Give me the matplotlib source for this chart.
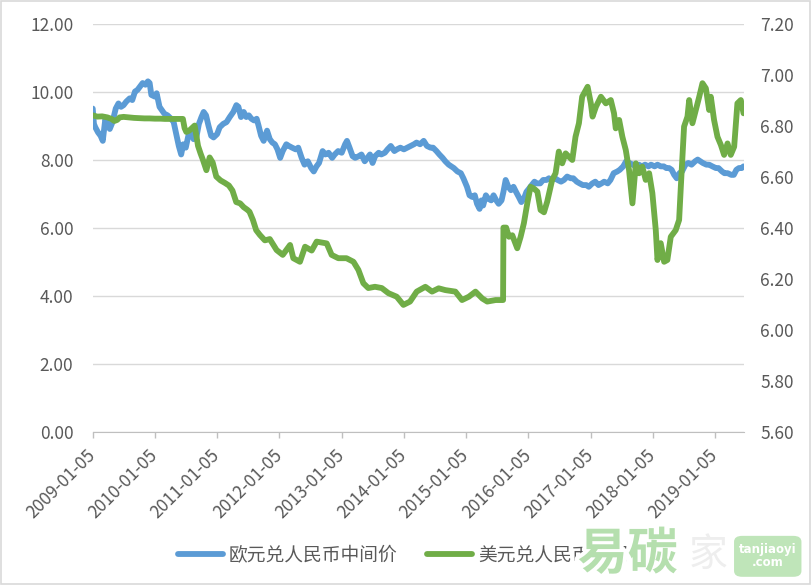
import numpy as np
import pandas as pd
import matplotlib
matplotlib.use('Agg')
import matplotlib.pyplot as plt
import matplotlib.patheffects as pe
from matplotlib.patches import Rectangle, FancyBboxPatch

plt.rcParams['font.family'] = ['Noto Sans CJK SC', 'DejaVu Sans']
plt.rcParams['font.weight'] = 'light'

# 欧元兑人民币中间价 (left axis)
eur_dates = ['2009-01-05', '2009-01-12', '2009-01-20', '2009-02-05', '2009-02-20', '2009-03-05', '2009-03-20',
             '2009-04-01', '2009-04-15', '2009-05-01', '2009-05-20', '2009-06-05', '2009-06-20', '2009-07-05',
             '2009-07-20', '2009-08-10', '2009-08-25', '2009-09-10', '2009-09-25', '2009-10-10', '2009-10-25',
             '2009-11-10', '2009-11-25', '2009-12-05', '2009-12-15', '2010-01-05', '2010-01-15', '2010-02-01',
             '2010-02-15', '2010-03-01', '2010-03-20', '2010-04-10', '2010-04-25', '2010-05-10', '2010-05-25',
             '2010-06-08', '2010-06-20', '2010-07-05', '2010-07-20', '2010-08-05', '2010-08-20', '2010-09-05',
             '2010-09-20', '2010-10-05', '2010-10-18', '2010-11-01', '2010-11-15', '2010-12-01', '2010-12-15',
             '2011-01-05', '2011-01-20', '2011-02-10', '2011-03-01', '2011-03-20', '2011-04-10', '2011-04-28',
             '2011-05-10', '2011-05-25', '2011-06-10', '2011-06-25', '2011-07-10', '2011-07-25', '2011-08-10',
             '2011-08-25', '2011-09-05', '2011-09-20', '2011-10-05', '2011-10-25', '2011-11-10', '2011-11-25',
             '2011-12-10', '2011-12-25', '2012-01-10', '2012-01-25', '2012-02-15', '2012-03-01', '2012-03-20',
             '2012-04-10', '2012-04-25', '2012-05-15', '2012-06-01', '2012-06-20', '2012-07-10', '2012-07-25',
             '2012-08-10', '2012-08-25', '2012-09-15', '2012-10-01', '2012-10-20', '2012-11-10', '2012-11-25',
             '2012-12-15', '2013-01-05', '2013-01-25', '2013-02-05', '2013-02-20', '2013-03-10', '2013-03-25',
             '2013-04-15', '2013-05-01', '2013-05-20', '2013-06-05', '2013-06-20', '2013-07-05', '2013-07-20',
             '2013-08-10', '2013-08-25', '2013-09-15', '2013-10-01', '2013-10-20', '2013-11-10', '2013-11-25',
             '2013-12-15', '2014-01-05', '2014-01-25', '2014-02-15', '2014-03-05', '2014-03-20', '2014-04-10',
             '2014-05-01', '2014-05-20', '2014-06-10', '2014-06-25', '2014-07-15', '2014-08-01', '2014-08-20',
             '2014-09-05', '2014-09-25', '2014-10-10', '2014-10-25', '2014-11-15', '2014-12-05', '2014-12-20',
             '2015-01-10', '2015-01-25', '2015-02-10', '2015-02-25', '2015-03-10', '2015-03-25', '2015-04-05',
             '2015-04-15', '2015-05-01', '2015-05-15', '2015-06-01', '2015-06-15', '2015-07-01', '2015-07-15',
             '2015-08-01', '2015-08-12', '2015-08-25', '2015-09-10', '2015-09-25', '2015-10-10', '2015-10-25',
             '2015-11-10', '2015-11-25', '2015-12-10', '2015-12-25', '2016-01-10', '2016-01-25', '2016-02-10',
             '2016-02-25', '2016-03-15', '2016-04-01', '2016-04-20', '2016-05-05', '2016-05-20', '2016-06-10',
             '2016-06-25', '2016-07-15', '2016-08-01', '2016-08-20', '2016-09-10', '2016-09-25', '2016-10-15',
             '2016-11-01', '2016-11-20', '2016-12-10', '2016-12-25', '2017-01-15', '2017-02-01', '2017-02-20',
             '2017-03-10', '2017-03-25', '2017-04-15', '2017-05-01', '2017-05-20', '2017-06-10', '2017-06-25',
             '2017-07-15', '2017-08-01', '2017-08-20', '2017-09-10', '2017-09-25', '2017-10-15', '2017-11-01',
             '2017-11-20', '2017-12-10', '2017-12-25', '2018-01-15', '2018-02-01', '2018-02-20', '2018-03-10',
             '2018-03-25', '2018-04-10', '2018-04-25', '2018-05-10', '2018-05-25', '2018-06-10', '2018-06-25',
             '2018-07-15', '2018-08-01', '2018-08-20', '2018-09-10', '2018-09-25', '2018-10-10', '2018-10-25',
             '2018-11-15', '2018-12-01', '2018-12-20', '2019-01-10', '2019-01-25', '2019-02-15', '2019-03-01',
             '2019-03-20', '2019-04-10', '2019-04-25', '2019-05-10', '2019-05-25', '2019-06-10', '2019-06-21']
eur_vals = [9.50, 9.05, 8.95, 8.80, 8.70, 8.55, 9.20,
            9.05, 8.90, 9.10, 9.50, 9.65, 9.55, 9.60,
            9.70, 9.80, 9.75, 10.00, 10.05, 10.15, 10.25,
            10.20, 10.30, 10.25, 9.90, 9.85, 9.95, 9.55,
            9.45, 9.35, 9.30, 9.20, 9.10, 8.75, 8.40,
            8.15, 8.45, 8.35, 8.70, 8.80, 8.60, 8.65,
            9.05, 9.25, 9.40, 9.30, 9.00, 8.70, 8.65,
            8.75, 8.95, 9.05, 9.10, 9.25, 9.40, 9.60,
            9.55, 9.25, 9.40, 9.25, 9.30, 9.20, 9.15,
            9.20, 9.00, 8.70, 8.55, 8.85, 8.60, 8.50,
            8.45, 8.30, 8.05, 8.25, 8.45, 8.40, 8.35,
            8.30, 8.35, 8.05, 7.85, 7.95, 7.75, 7.65,
            7.80, 7.90, 8.25, 8.15, 8.20, 8.05, 8.15,
            8.25, 8.20, 8.45, 8.55, 8.35, 8.10, 8.05,
            8.10, 8.15, 7.95, 8.05, 8.15, 7.90, 8.10,
            8.20, 8.15, 8.20, 8.30, 8.40, 8.25, 8.30,
            8.35, 8.30, 8.35, 8.40, 8.45, 8.50, 8.45,
            8.55, 8.40, 8.35, 8.35, 8.25, 8.15, 8.05,
            7.95, 7.85, 7.80, 7.75, 7.65, 7.60, 7.45,
            7.20, 6.95, 6.90, 6.95, 6.70, 6.55, 6.80,
            6.65, 6.95, 6.85, 6.80, 6.95, 6.80, 6.70,
            6.80, 7.05, 7.40, 7.20, 7.10, 7.20, 7.05,
            6.90, 6.75, 6.85, 7.05, 7.15, 7.25, 7.35,
            7.30, 7.30, 7.40, 7.40, 7.45, 7.40, 7.45,
            7.40, 7.35, 7.40, 7.50, 7.45, 7.45, 7.35,
            7.30, 7.25, 7.25, 7.20, 7.30, 7.35, 7.25,
            7.30, 7.35, 7.30, 7.40, 7.60, 7.65, 7.70,
            7.80, 7.95, 7.90, 7.85, 7.80, 7.85, 7.80,
            7.85, 7.80, 7.85, 7.80, 7.85, 7.80, 7.80,
            7.75, 7.75, 7.70, 7.55, 7.45, 7.60, 7.65,
            7.85, 7.90, 7.85, 7.95, 8.00, 7.95, 7.90,
            7.85, 7.85, 7.80, 7.75, 7.75, 7.65, 7.60,
            7.60, 7.55, 7.55, 7.70, 7.75, 7.75, 7.80]

# 美元兑人民币中间价 (right axis)
usd_dates = ['2009-01-05', '2009-02-01', '2009-03-01', '2009-04-01', '2009-04-25', '2009-05-12', '2009-05-28',
             '2009-06-12', '2009-07-05', '2009-08-05', '2009-09-05', '2009-10-05', '2009-11-05', '2009-12-05',
             '2010-01-05', '2010-02-05', '2010-03-05', '2010-04-05', '2010-05-05', '2010-06-18', '2010-06-28',
             '2010-07-08', '2010-07-25', '2010-08-10', '2010-08-26', '2010-09-15', '2010-09-30', '2010-10-14',
             '2010-11-03', '2010-11-22', '2010-12-10', '2010-12-31', '2011-01-25', '2011-02-20', '2011-03-15',
             '2011-04-05', '2011-04-27', '2011-05-20', '2011-06-10', '2011-07-01', '2011-07-14', '2011-08-03',
             '2011-08-22', '2011-09-13', '2011-10-12', '2011-11-10', '2011-12-20', '2012-01-25', '2012-03-08',
             '2012-03-27', '2012-05-05', '2012-06-04', '2012-07-13', '2012-08-11', '2012-10-09', '2012-11-07',
             '2012-12-16', '2013-02-02', '2013-03-15', '2013-04-13', '2013-05-12', '2013-06-10', '2013-07-19',
             '2013-08-28', '2013-10-06', '2013-11-24', '2014-01-02', '2014-02-10', '2014-03-21', '2014-05-11',
             '2014-06-19', '2014-07-28', '2014-09-05', '2014-11-03', '2014-12-12', '2015-01-21', '2015-03-01',
             '2015-04-10', '2015-05-09', '2015-06-27', '2015-08-10', '2015-08-12', '2015-08-28', '2015-09-13',
             '2015-10-03', '2015-11-01', '2015-11-21', '2015-12-10', '2015-12-30', '2016-01-18', '2016-02-07',
             '2016-02-27', '2016-03-17', '2016-04-06', '2016-04-25', '2016-05-24', '2016-06-13', '2016-07-02',
             '2016-07-22', '2016-08-11', '2016-08-30', '2016-09-19', '2016-10-08', '2016-10-28', '2016-11-16',
             '2016-12-18', '2017-01-06', '2017-01-16', '2017-02-05', '2017-03-06', '2017-04-04', '2017-05-03',
             '2017-05-22', '2017-06-01', '2017-06-21', '2017-07-10', '2017-07-30', '2017-08-18', '2017-09-07',
             '2017-09-27', '2017-10-16', '2017-11-04', '2017-11-24', '2017-12-14', '2018-01-02', '2018-01-22',
             '2018-02-01', '2018-02-20', '2018-03-12', '2018-03-31', '2018-04-20', '2018-05-19', '2018-06-08',
             '2018-06-18', '2018-07-07', '2018-07-27', '2018-08-06', '2018-08-25', '2018-09-14', '2018-10-04',
             '2018-10-23', '2018-11-12', '2018-12-01', '2018-12-11', '2018-12-30', '2019-01-19', '2019-02-08',
             '2019-02-27', '2019-03-19', '2019-04-07', '2019-04-27', '2019-05-16', '2019-06-05', '2019-06-21']
usd_vals = [6.840, 6.835, 6.836, 6.832, 6.826, 6.818, 6.822,
            6.832, 6.834, 6.832, 6.830, 6.829, 6.828, 6.828,
            6.827, 6.827, 6.826, 6.826, 6.826, 6.826, 6.790,
            6.775, 6.780, 6.790, 6.800, 6.720, 6.690, 6.665,
            6.625, 6.675, 6.655, 6.600, 6.585, 6.575, 6.565,
            6.545, 6.500, 6.495, 6.480, 6.470, 6.462, 6.430,
            6.390, 6.371, 6.350, 6.355, 6.312, 6.293, 6.332,
            6.280, 6.266, 6.325, 6.310, 6.345, 6.338, 6.293,
            6.280, 6.280, 6.266, 6.234, 6.182, 6.163, 6.168,
            6.163, 6.143, 6.129, 6.097, 6.110, 6.149, 6.168,
            6.149, 6.162, 6.155, 6.149, 6.116, 6.129, 6.149,
            6.122, 6.110, 6.116, 6.116, 6.400, 6.400, 6.364,
            6.370, 6.319, 6.364, 6.417, 6.495, 6.560, 6.553,
            6.541, 6.469, 6.460, 6.502, 6.587, 6.613, 6.698,
            6.652, 6.691, 6.678, 6.665, 6.756, 6.809, 6.913,
            6.952, 6.887, 6.835, 6.874, 6.913, 6.887, 6.900,
            6.848, 6.789, 6.822, 6.756, 6.704, 6.626, 6.495,
            6.652, 6.613, 6.639, 6.587, 6.613, 6.535, 6.390,
            6.273, 6.339, 6.266, 6.273, 6.364, 6.390, 6.430,
            6.560, 6.796, 6.835, 6.900, 6.809, 6.861, 6.913,
            6.966, 6.946, 6.861, 6.913, 6.822, 6.756, 6.724,
            6.685, 6.730, 6.685, 6.717, 6.887, 6.900, 6.848]

eur_label = '欧元兑人民币中间价'
usd_label = '美元兑人民币中间价'
year_ticks = ['%d-01-05' % y for y in range(2009, 2020)]

eur_x = pd.to_datetime(eur_dates)
usd_x = pd.to_datetime(usd_dates)

txt_col = '#595959'
fig = plt.figure(figsize=(8.12, 5.85), dpi=100)
ax = fig.add_axes([0.1142, 0.2621, 0.8017, 0.6977])
ax2 = ax.twinx()

l1, = ax.plot(eur_x, eur_vals, color='#5B9BD5', lw=4.2, solid_joinstyle='round', solid_capstyle='round', label=eur_label)
l2, = ax2.plot(usd_x, usd_vals, color='#70AD47', lw=4.2, solid_joinstyle='round', solid_capstyle='round', label=usd_label)

ax.set_ylim(0, 12)
ax.set_yticks(np.arange(0, 12.01, 2))
ax.yaxis.set_major_formatter(matplotlib.ticker.FormatStrFormatter('%.2f'))
ax2.set_ylim(5.6, 7.2)
ax2.set_yticks(np.arange(5.6, 7.201, 0.2))
ax2.yaxis.set_major_formatter(matplotlib.ticker.FormatStrFormatter('%.2f'))

ax.set_xlim(pd.Timestamp('2009-01-05'), pd.Timestamp('2019-06-22'))
ax.set_xticks(pd.to_datetime(year_ticks))
ax.set_xticklabels(year_ticks, rotation=45, ha='right', va='center', rotation_mode='anchor')

ax.grid(axis='y', color='#d9d9d9', lw=1)
ax.set_axisbelow(True)
for a in (ax, ax2):
    for s in ['top', 'left', 'right']:
        a.spines[s].set_visible(False)
    a.spines['bottom'].set_color('#bfbfbf')
ax2.spines['bottom'].set_visible(False)

ax.tick_params(axis='y', length=0, pad=14, labelsize=12.5, labelcolor=txt_col)
ax2.tick_params(axis='y', length=0, pad=12, labelsize=12.5, labelcolor=txt_col)
ax.tick_params(axis='x', length=4, width=1, color='#bfbfbf', pad=11, labelsize=12.5, labelcolor=txt_col)

leg = fig.legend(handles=[l1, l2], loc='center', bbox_to_anchor=(0.508, 0.051), ncol=2, frameon=False,
                 fontsize=13.5, handlelength=2.4, handletextpad=0.3, columnspacing=1.6)
for t in leg.get_texts():
    t.set_color(txt_col)

# watermark on top of the legend, like the source image
wm = fig.text(0.773, 0.052, '易碳', fontsize=36, fontweight='bold', color='#b5dfae', ha='center', va='center',
              zorder=10)
wm.set_path_effects([pe.withStroke(linewidth=6, foreground='white')])
fig.text(0.872, 0.052, '家', fontsize=28, color='#eeeeee', ha='center', va='center', zorder=10)
box = FancyBboxPatch((0.908, 0.018), 0.075, 0.062, boxstyle='round,pad=0.004,rounding_size=0.01',
                     transform=fig.transFigure, facecolor='#bfe5b9', edgecolor='none')
fig.patches.append(box)
fig.text(0.945, 0.049, 'tanjiaoyi\n.com', fontsize=8.5, color='white', ha='center', va='center',
         fontweight='bold', linespacing=1.0, family='DejaVu Sans')

fig.patches.append(Rectangle((0.001, 0.002), 0.997, 0.996, transform=fig.transFigure, fill=False,
                             edgecolor='#d9d9d9', lw=1.2))

fig.savefig('out.png', dpi=100)
